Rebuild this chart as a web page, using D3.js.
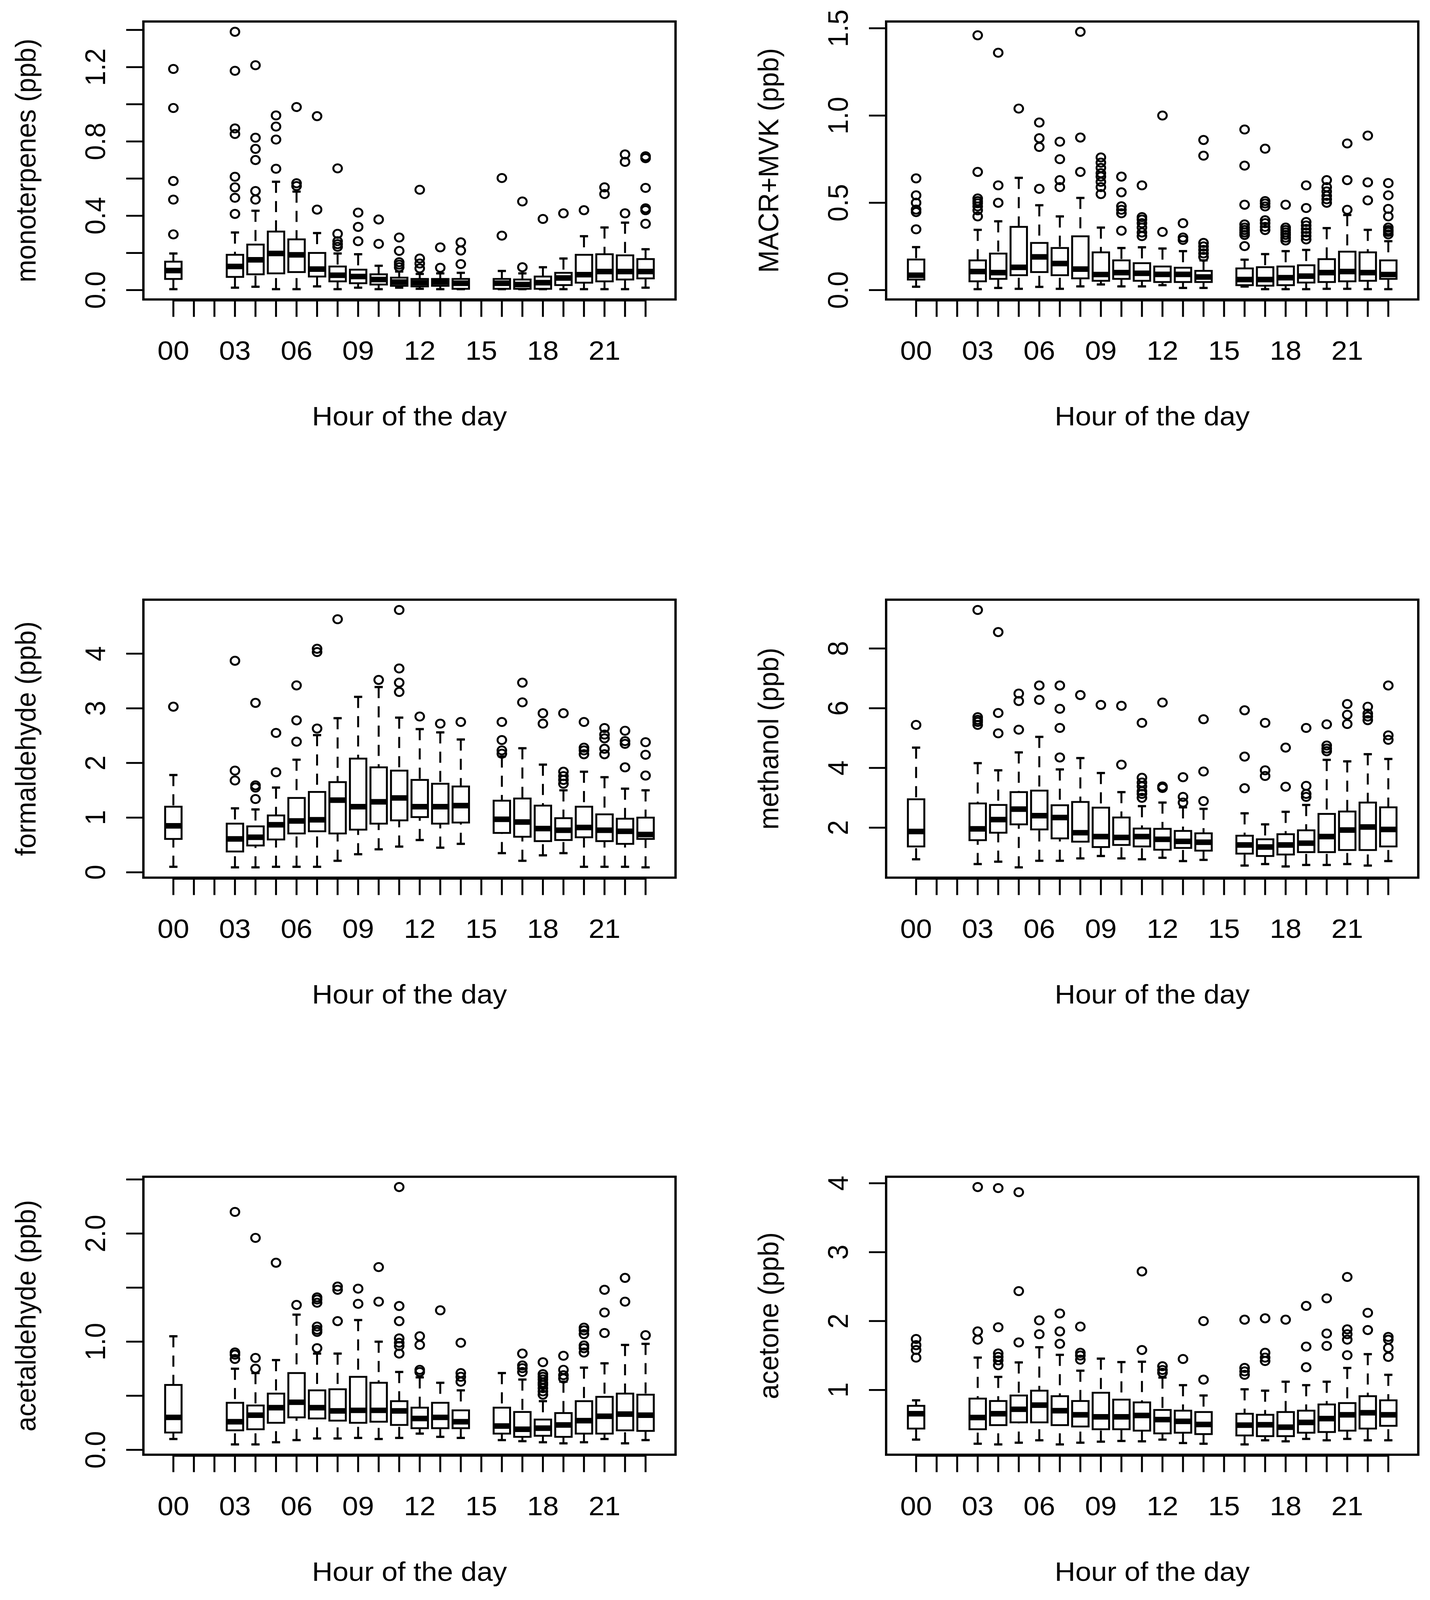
<!DOCTYPE html>
<html>
<head>
<meta charset="utf-8">
<script src="https://cdn.jsdelivr.net/npm/d3@7/dist/d3.min.js"></script>
<style>
  html, body { margin: 0; padding: 0; background: #ffffff; overflow: hidden; }
  svg { display: block; }
</style>
</head>
<body>
<script>
// ---------------- DATA ----------------
// Hours with observations (01, 02 and 15 have none)
const hours = [0,3,4,5,6,7,8,9,10,11,12,13,14,16,17,18,19,20,21,22,23];
// x-axis: ticks at every hour, labels every third hour
const hourTicks = [0,1,2,3,4,5,6,7,8,9,10,11,12,13,14,15,16,17,18,19,20,21,22,23];
const hourLabelValues = [0,3,6,9,12,15,18,21];
const hourLabels = ["00","03","06","09","12","15","18","21"];

// Box stats per hour: [lower whisker, Q1, median, Q3, upper whisker]
const monoStats = [
  [0.005,0.060,0.105,0.153,0.197],[0.013,0.071,0.127,0.190,0.310],[0.018,0.085,0.163,0.245,0.427],
  [0.005,0.090,0.197,0.315,0.583],[0.005,0.097,0.190,0.273,0.530],[0.020,0.073,0.113,0.200,0.307],
  [0.005,0.047,0.080,0.127,0.197],[0.013,0.037,0.073,0.110,0.193],[0.005,0.030,0.057,0.085,0.131],
  [0.013,0.023,0.043,0.067,0.100],[0.007,0.020,0.040,0.060,0.087],[0.005,0.023,0.043,0.060,0.090],
  [0.005,0.007,0.037,0.060,0.093],[0.005,0.007,0.037,0.060,0.103],[0.005,0.007,0.030,0.057,0.090],
  [0.005,0.007,0.040,0.073,0.123],[0.005,0.027,0.065,0.093,0.170],[0.005,0.040,0.083,0.190,0.290],
  [0.005,0.047,0.100,0.193,0.337],[0.005,0.057,0.100,0.187,0.363],[0.013,0.063,0.100,0.167,0.220]
];
const monoOutliers = [
  [1.19,0.98,0.587,0.487,0.30],[1.39,1.18,0.87,0.84,0.61,0.553,0.497,0.41],[1.21,0.82,0.76,0.70,0.533,0.487],
  [0.94,0.88,0.81,0.653],[0.985,0.575,0.56],[0.936,0.433],
  [0.655,0.303,0.263,0.247,0.233],[0.417,0.34,0.263],[0.38,0.249],
  [0.283,0.211,0.15,0.137,0.123],[0.54,0.17,0.143,0.117],[0.23,0.12],
  [0.257,0.213,0.14],[0.603,0.293],[0.477,0.123],
  [0.383],[0.413],[0.43],
  [0.553,0.517],[0.73,0.69,0.413],[0.72,0.71,0.55,0.44,0.43,0.357]
];

const macrStats = [
  [0.019,0.060,0.085,0.175,0.246],[0.005,0.050,0.106,0.170,0.345],[0.012,0.064,0.100,0.209,0.394],
  [0.007,0.085,0.130,0.362,0.643],[0.018,0.103,0.190,0.270,0.486],[0.007,0.085,0.152,0.241,0.422],
  [0.021,0.067,0.120,0.308,0.528],[0.032,0.053,0.089,0.216,0.358],[0.021,0.064,0.100,0.170,0.241],
  [0.021,0.053,0.096,0.154,0.245],[0.028,0.046,0.090,0.135,0.238],[0.012,0.046,0.090,0.128,0.223],
  [0.012,0.046,0.075,0.110,0.170],[0.020,0.028,0.060,0.124,0.174],[0.005,0.025,0.060,0.131,0.206],
  [0.005,0.028,0.071,0.135,0.223],[0.005,0.043,0.080,0.142,0.230],[0.007,0.046,0.100,0.177,0.355],
  [0.007,0.050,0.106,0.220,0.430],[0.005,0.053,0.100,0.216,0.345],[0.005,0.064,0.089,0.170,0.280]
];
const macrOutliers = [
  [0.64,0.543,0.50,0.461,0.447,0.348],[1.46,0.677,0.525,0.51,0.497,0.479,0.457,0.422],[1.36,0.60,0.50],
  [1.04],[0.96,0.87,0.82,0.58],[0.85,0.75,0.63,0.59],
  [1.48,0.874,0.677],[0.76,0.73,0.70,0.67,0.65,0.62,0.59,0.55],[0.65,0.56,0.48,0.46,0.44,0.34],
  [0.60,0.418,0.404,0.383,0.358,0.33,0.309],[1.0,0.333],[0.383,0.301,0.287],
  [0.86,0.77,0.27,0.25,0.23,0.21,0.19],[0.92,0.713,0.489,0.376,0.358,0.344,0.33,0.316,0.252],[0.81,0.51,0.496,0.479,0.40,0.383,0.362,0.344],
  [0.489,0.358,0.344,0.33,0.316,0.30,0.284],[0.60,0.47,0.39,0.37,0.35,0.33,0.31,0.29],[0.63,0.59,0.565,0.54,0.52,0.50],
  [0.84,0.63,0.46],[0.885,0.617,0.514],[0.613,0.543,0.465,0.422,0.358,0.344,0.333,0.319]
];

const formStats = [
  [0.10,0.61,0.85,1.20,1.78],[0.09,0.38,0.61,0.89,1.17],[0.09,0.49,0.64,0.84,1.15],
  [0.10,0.60,0.87,1.04,1.55],[0.10,0.71,0.94,1.36,2.06],[0.10,0.75,0.96,1.47,2.51],
  [0.21,0.71,1.32,1.65,2.82],[0.33,0.78,1.20,2.08,3.21],[0.42,0.89,1.29,1.92,3.39],
  [0.47,0.95,1.36,1.86,2.83],[0.59,1.01,1.20,1.69,2.62],[0.45,0.89,1.20,1.62,2.56],
  [0.52,0.91,1.22,1.57,2.43],[0.35,0.72,0.97,1.31,2.12],[0.21,0.65,0.92,1.35,2.27],
  [0.31,0.57,0.80,1.22,1.97],[0.35,0.59,0.77,0.99,1.50],[0.10,0.64,0.82,1.20,1.84],
  [0.10,0.57,0.77,1.06,1.74],[0.10,0.52,0.75,0.98,1.53],[0.09,0.61,0.69,1.00,1.50]
];
const formOutliers = [
  [3.03],[3.87,1.86,1.68],[3.10,1.59,1.55,1.34],
  [2.55,1.83],[3.42,2.78,2.39],[4.09,4.03,2.63],
  [4.63],[],[3.52],
  [4.80,3.73,3.47,3.30],[2.85],[2.72],
  [2.75],[2.75,2.42,2.23,2.17],[3.47,3.11],
  [2.91,2.72],[2.91,1.84,1.76,1.69,1.62],[2.75,2.28,2.23,2.16],
  [2.64,2.52,2.45,2.26,2.16],[2.59,2.40,2.35,1.92],[2.38,2.15,1.77]
];

const methStats = [
  [0.94,1.37,1.87,2.95,4.68],[0.78,1.58,1.96,2.81,4.16],[0.86,1.83,2.27,2.76,3.92],
  [0.67,2.11,2.62,3.19,4.52],[0.89,1.94,2.40,3.24,5.04],[0.89,1.64,2.34,2.75,3.95],
  [0.97,1.53,1.83,2.86,4.33],[1.05,1.35,1.70,2.67,3.83],[0.97,1.42,1.67,2.34,3.19],
  [0.94,1.37,1.70,1.97,2.72],[0.99,1.26,1.61,1.96,2.84],[0.88,1.32,1.54,1.89,2.68],
  [0.92,1.23,1.51,1.81,2.63],[0.73,1.13,1.42,1.73,2.48],[0.78,1.05,1.35,1.61,2.11],
  [0.70,1.10,1.42,1.78,2.53],[0.75,1.18,1.48,1.91,2.76],[0.75,1.18,1.70,2.46,4.27],
  [0.78,1.25,1.92,2.54,4.22],[0.73,1.25,2.02,2.84,4.46],[0.88,1.37,1.94,2.68,4.30]
];
const methOutliers = [
  [5.44],[9.29,5.70,5.61,5.54,5.44],[8.55,5.84,5.16],
  [6.49,6.24,5.28],[6.76,6.28],[6.76,5.98,5.34,4.35],
  [6.44],[6.11],[6.08,4.11],
  [5.51,3.67,3.51,3.38,3.22,3.13,3.00],[6.19,3.38,3.33],[3.69,3.03,2.84],
  [5.63,3.88,2.89],[5.93,4.38,3.32],[5.51,3.92,3.73],
  [4.68,3.37],[5.34,3.40,3.13,3.03],[5.46,4.75,4.65,4.56],
  [6.14,5.78,5.47],[6.05,5.82,5.72,5.60],[6.76,5.09,4.94]
];

const acetalStats = [
  [0.10,0.16,0.30,0.60,1.05],[0.05,0.18,0.26,0.435,0.75],[0.05,0.19,0.32,0.41,0.71],
  [0.07,0.25,0.39,0.52,0.83],[0.09,0.30,0.44,0.71,1.25],[0.105,0.29,0.39,0.55,0.89],
  [0.105,0.27,0.36,0.56,0.89],[0.11,0.25,0.365,0.675,1.20],[0.10,0.26,0.365,0.62,1.00],
  [0.11,0.23,0.36,0.45,0.72],[0.15,0.20,0.29,0.39,0.67],[0.12,0.20,0.30,0.435,0.62],
  [0.11,0.20,0.26,0.365,0.55],[0.09,0.15,0.22,0.39,0.71],[0.08,0.12,0.19,0.35,0.65],
  [0.07,0.13,0.20,0.28,0.45],[0.06,0.12,0.23,0.34,0.63],[0.07,0.15,0.27,0.45,0.76],
  [0.10,0.15,0.31,0.49,0.80],[0.06,0.18,0.33,0.52,0.97],[0.09,0.175,0.32,0.51,0.98]
];
const acetalOutliers = [
  [],[2.20,0.90,0.88,0.84],[1.96,0.85,0.75],
  [1.73],[1.34],[1.41,1.39,1.36,1.14,1.11,1.09,0.94],
  [1.51,1.48,1.19],[1.49,1.35],[1.69,1.37],
  [2.43,1.33,1.19,1.03,0.99,0.96,0.89],[1.05,0.97,0.74,0.72],[1.29],
  [0.99,0.71,0.675,0.63],[],[0.89,0.78,0.755,0.72],
  [0.81,0.70,0.675,0.65,0.62,0.60,0.57,0.54,0.51],[0.87,0.74,0.69,0.66],[1.13,1.105,1.07,0.965,0.94,0.90],
  [1.48,1.27,1.08],[1.59,1.37],[1.06]
];

const acetoneStats = [
  [0.28,0.44,0.655,0.77,0.85],[0.22,0.43,0.60,0.875,1.47],[0.21,0.49,0.655,0.84,1.19],
  [0.235,0.53,0.72,0.92,1.40],[0.27,0.53,0.78,0.99,1.62],[0.21,0.49,0.70,0.91,1.51],
  [0.235,0.47,0.64,0.84,1.28],[0.25,0.43,0.61,0.96,1.455],[0.26,0.43,0.61,0.86,1.405],
  [0.255,0.41,0.63,0.82,1.41],[0.28,0.37,0.57,0.71,1.18],[0.23,0.38,0.545,0.70,1.07],
  [0.22,0.36,0.50,0.68,0.92],[0.21,0.34,0.49,0.655,1.01],[0.27,0.33,0.495,0.64,0.99],
  [0.255,0.33,0.46,0.68,1.12],[0.29,0.38,0.53,0.70,1.07],[0.27,0.39,0.585,0.79,1.12],
  [0.29,0.41,0.64,0.81,1.32],[0.27,0.44,0.67,0.91,1.52],[0.27,0.48,0.64,0.85,1.22]
];
const acetoneOutliers = [
  [1.74,1.65,1.58,1.47],[3.945,1.85,1.73],[3.93,1.91,1.53,1.48,1.43,1.36],
  [3.87,2.435,1.69],[2.01,1.81],[2.11,1.85,1.67],
  [1.92,1.54,1.50,1.44],[],[],
  [2.72,1.58],[1.345,1.29,1.25],[1.45],
  [2.00,1.15],[2.02,1.32,1.27,1.22],[2.04,1.54,1.47,1.42],
  [2.02],[2.22,1.63,1.33],[2.33,1.82,1.64],
  [2.64,1.88,1.81,1.73,1.505],[2.12,1.87],[1.77,1.73,1.61,1.48]
];

// y-axis ticks and their labels (empty label = tick without text)
const monoTicks = [0,0.2,0.4,0.6,0.8,1.0,1.2,1.4];
const monoTickLabels = ["0.0","","0.4","","0.8","","1.2",""];
const macrTicks = [0,0.5,1.0,1.5];
const macrTickLabels = ["0.0","0.5","1.0","1.5"];
const formTicks = [0,1,2,3,4];
const formTickLabels = ["0","1","2","3","4"];
const methTicks = [2,4,6,8];
const methTickLabels = ["2","4","6","8"];
const acetalTicks = [0,0.5,1.0,1.5,2.0,2.5];
const acetalTickLabels = ["0.0","","1.0","","2.0",""];
const acetoneTicks = [1,2,3,4];
const acetoneTickLabels = ["1","2","3","4"];

const yTitles = ["monoterpenes (ppb)","MACR+MVK (ppb)","formaldehyde (ppb)","methanol (ppb)","acetaldehyde (ppb)","acetone (ppb)"];
const xTitle = "Hour of the day";

// ---------------- LAYOUT ----------------
const W = 3660, H = 4317;
const colLeft = [367, 2268];
const rowTop = [58, 1618, 3175];
const plotW = 1362, plotH = 750;
const FONT = "'Liberation Sans', Arial, Helvetica, sans-serif";
const FS = 73;
const LW = 5;

const panels = [
  {stats: monoStats, out: monoOutliers, ticks: monoTicks, labels: monoTickLabels, title: yTitles[0], col: 0, row: 0},
  {stats: macrStats, out: macrOutliers, ticks: macrTicks, labels: macrTickLabels, title: yTitles[1], col: 1, row: 0},
  {stats: formStats, out: formOutliers, ticks: formTicks, labels: formTickLabels, title: yTitles[2], col: 0, row: 1},
  {stats: methStats, out: methOutliers, ticks: methTicks, labels: methTickLabels, title: yTitles[3], col: 1, row: 1},
  {stats: acetalStats, out: acetalOutliers, ticks: acetalTicks, labels: acetalTickLabels, title: yTitles[4], col: 0, row: 2},
  {stats: acetoneStats, out: acetoneOutliers, ticks: acetoneTicks, labels: acetoneTickLabels, title: yTitles[5], col: 1, row: 2}
];

// Fit the fixed drawing to the actual viewport so nothing is cut off.
const vw = window.innerWidth || W, vh = window.innerHeight || H;
const svg = d3.select("body").append("svg")
  .attr("width", vw).attr("height", vh)
  .attr("viewBox", `0 0 ${W} ${H}`)
  .attr("preserveAspectRatio", "none")
  .style("background", "#ffffff");

panels.forEach(p => {
  const left = colLeft[p.col], top = rowTop[p.row];
  const bottom = top + plotH;
  const g = svg.append("g");

  // x scale: R-style limits (first-0.5 .. last+0.5, extended 4%)
  const ext = 24 * 0.04;
  const x = d3.scaleLinear()
    .domain([-0.5 - ext, 23.5 + ext])
    .range([left, left + plotW]);

  // y scale: data range extended by 4% (R default)
  const allVals = [];
  p.stats.forEach(s => allVals.push(...s));
  p.out.forEach(o => allVals.push(...o));
  const [mn, mx] = d3.extent(allVals);
  const yext = (mx - mn) * 0.04;
  const y = d3.scaleLinear()
    .domain([mn - yext, mx + yext])
    .range([bottom, top]);

  const bw = x(0.8) - x(0);        // box width (boxwex 0.8)
  const sw = bw * 0.5;             // staple width (staplewex 0.5)

  hours.forEach((h, i) => {
    const s = p.stats[i];
    const cx = x(h);
    const bg = g.append("g");
    // whiskers: dashed, drawn from the whisker end toward the box
    bg.append("line").attr("x1", cx).attr("x2", cx).attr("y1", y(s[0])).attr("y2", y(s[1]))
      .attr("stroke", "#000").attr("stroke-width", LW).attr("stroke-dasharray", "30,22");
    bg.append("line").attr("x1", cx).attr("x2", cx).attr("y1", y(s[4])).attr("y2", y(s[3]))
      .attr("stroke", "#000").attr("stroke-width", LW).attr("stroke-dasharray", "30,22");
    // staples
    [s[0], s[4]].forEach(v => {
      bg.append("line").attr("x1", cx - sw / 2).attr("x2", cx + sw / 2).attr("y1", y(v)).attr("y2", y(v))
        .attr("stroke", "#000").attr("stroke-width", 6);
    });
    // box
    bg.append("rect").attr("x", cx - bw / 2).attr("y", y(s[3]))
      .attr("width", bw).attr("height", Math.max(0, y(s[1]) - y(s[3])))
      .attr("fill", "#fff").attr("stroke", "#000").attr("stroke-width", LW);
    // median
    bg.append("line").attr("x1", cx - bw / 2).attr("x2", cx + bw / 2).attr("y1", y(s[2])).attr("y2", y(s[2]))
      .attr("stroke", "#000").attr("stroke-width", 15).attr("stroke-linecap", "butt");
    // outliers
    bg.selectAll("circle.o").data(p.out[i]).enter().append("circle")
      .attr("class", "o")
      .attr("cx", cx).attr("cy", d => y(d)).attr("r", 11)
      .attr("fill", "none").attr("stroke", "#000").attr("stroke-width", 5);
  });

  // plot frame
  g.append("rect").attr("x", left).attr("y", top).attr("width", plotW).attr("height", plotH)
    .attr("fill", "none").attr("stroke", "#000").attr("stroke-width", LW + 1);

  // x axis line (overlaps frame bottom), ticks and labels
  g.append("line").attr("x1", x(0)).attr("x2", x(23)).attr("y1", bottom + 3).attr("y2", bottom + 3)
    .attr("stroke", "#000").attr("stroke-width", LW);
  g.selectAll("line.xt").data(hourTicks).enter().append("line")
    .attr("class", "xt")
    .attr("x1", d => x(d)).attr("x2", d => x(d))
    .attr("y1", bottom).attr("y2", bottom + 47)
    .attr("stroke", "#000").attr("stroke-width", LW);
  g.selectAll("text.xl").data(hourLabelValues).enter().append("text")
    .attr("class", "xl")
    .attr("x", d => x(d)).attr("y", bottom + 163)
    .attr("text-anchor", "middle")
    .attr("font-family", FONT).attr("font-size", FS).attr("fill", "#000")
    .text((d, i) => hourLabels[i]);

  // y axis ticks and labels
  g.selectAll("line.yt").data(p.ticks).enter().append("line")
    .attr("class", "yt")
    .attr("x1", left - 44).attr("x2", left)
    .attr("y1", d => y(d)).attr("y2", d => y(d))
    .attr("stroke", "#000").attr("stroke-width", LW);
  g.selectAll("text.yl").data(p.ticks.map((t, i) => ({t, l: p.labels[i]})).filter(d => d.l !== ""))
    .enter().append("text")
    .attr("class", "yl")
    .attr("transform", d => `translate(${left - 98},${y(d.t)}) rotate(-90)`)
    .attr("text-anchor", "middle")
    .attr("font-family", FONT).attr("font-size", FS).attr("fill", "#000")
    .text(d => d.l);

  // axis titles
  g.append("text")
    .attr("x", left + plotW / 2).attr("y", bottom + 340)
    .attr("text-anchor", "middle")
    .attr("font-family", FONT).attr("font-size", FS).attr("fill", "#000")
    .text(xTitle);
  g.append("text")
    .attr("transform", `translate(${left - 276},${top + plotH / 2}) rotate(-90)`)
    .attr("text-anchor", "middle")
    .attr("font-family", FONT).attr("font-size", FS).attr("fill", "#000")
    .text(p.title);
});
</script>
</body>
</html>
